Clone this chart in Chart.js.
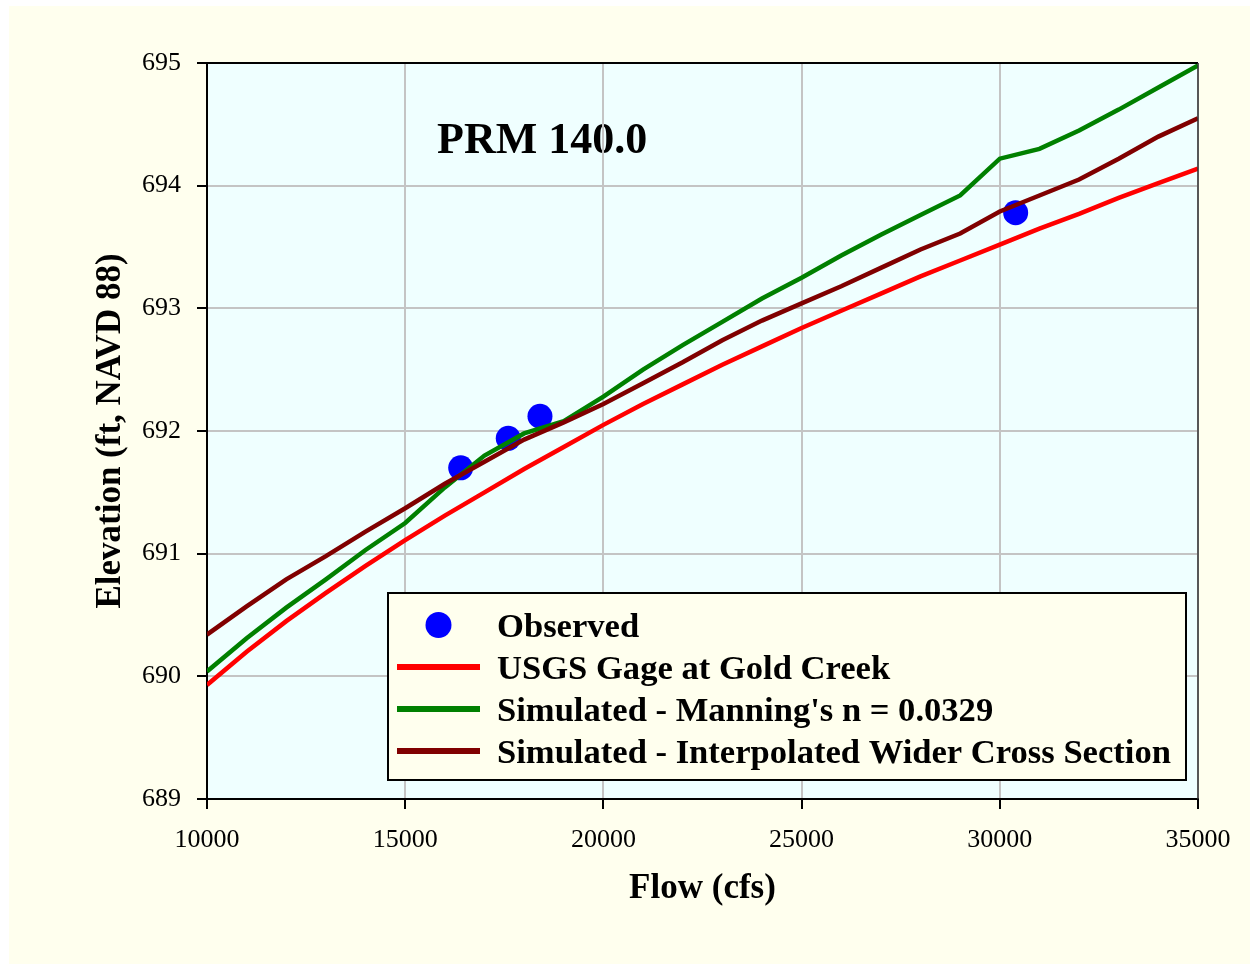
<!DOCTYPE html>
<html>
<head>
<meta charset="utf-8">
<script src="https://cdn.jsdelivr.net/npm/chart.js@4"></script>
<style>
  body { margin: 0; background: #ffffff; }
  canvas { display: block; }
</style>
</head>
<body>
<canvas id="ChartPRM" width="1250" height="964"></canvas>
<script>
// PRM 140.0 - curva de elevación vs caudal

// datos
const flows = [10000, 11000, 12000, 13000, 14000, 15000, 16000, 17000, 18000, 19000, 20000, 21000, 22000,
               23000, 24000, 25000, 26000, 27000, 28000, 29000, 30000, 31000, 32000, 33000, 34000, 35000];
const usgsElev = [689.93, 690.20, 690.45, 690.68, 690.90, 691.11, 691.31, 691.50, 691.69, 691.87, 692.05, 692.22, 692.38,
                  692.54, 692.69, 692.84, 692.98, 693.12, 693.26, 693.39, 693.52, 693.65, 693.77, 693.90, 694.02, 694.14];
const manningElev = [690.04, 690.31, 690.56, 690.79, 691.03, 691.25, 691.54, 691.80, 691.98, 692.08, 692.28, 692.50, 692.70,
                     692.89, 693.08, 693.25, 693.43, 693.60, 693.76, 693.92, 694.22, 694.30, 694.45, 694.62, 694.80, 694.98];
const widerElev = [690.34, 690.57, 690.79, 690.98, 691.18, 691.37, 691.57, 691.75, 691.93, 692.07, 692.22, 692.39, 692.56,
                   692.74, 692.90, 693.04, 693.18, 693.33, 693.48, 693.61, 693.79, 693.92, 694.05, 694.22, 694.40, 694.55];

const obsFlows = [16400, 17600, 18400, 30400];
const obsElev = [691.70, 691.94, 692.12, 693.78];

const xTicks = [10000, 15000, 20000, 25000, 30000, 35000];
const yTicks = [689, 690, 691, 692, 693, 694, 695];

const seriesNames = ['Observed', 'USGS Gage at Gold Creek', "Simulated - Manning's n = 0.0329",
                     'Simulated - Interpolated Wider Cross Section'];
const chartTitle = 'PRM 140.0';

const FONT = "'Liberation Serif', 'Times New Roman', serif";
const CREAM = '#ffffee';

function toPoints(xs, ys) {
    return xs.map((x, i) => ({ x: x, y: ys[i] }));
}

function lineDataset(label, ys, color, order) {
    return {
        label: label, data: toPoints(flows, ys), showLine: true, borderColor: color,
        backgroundColor: color, borderWidth: 4.5, pointRadius: 0, order: order, tension: 0
    };
}

// fondo, título dentro del área y bordes
const decoPlugin = {
    id: 'deco',
    beforeDraw(chart) {
        const ctx = chart.ctx, a = chart.chartArea;
        ctx.save();
        ctx.fillStyle = '#ffffff';
        ctx.fillRect(0, 0, chart.width, chart.height);
        ctx.fillStyle = CREAM;
        ctx.fillRect(9, 6, chart.width - 9, chart.height - 6);
        ctx.fillStyle = '#efffff';
        ctx.fillRect(a.left, a.top, a.right - a.left, a.bottom - a.top);
        // título (la grilla pasa por encima, como en el original)
        ctx.fillStyle = '#000';
        ctx.font = 'bold 44px ' + FONT;
        ctx.textAlign = 'left';
        ctx.textBaseline = 'alphabetic';
        ctx.fillText(chartTitle, 437, 153);
        ctx.restore();
    },
    afterDraw(chart) {
        const ctx = chart.ctx, a = chart.chartArea;
        ctx.save();
        ctx.strokeStyle = '#000';
        ctx.lineWidth = 2;
        ctx.beginPath();
        ctx.moveTo(a.left, a.top);
        ctx.lineTo(a.right, a.top);
        ctx.stroke();
        ctx.strokeStyle = '#333';
        ctx.lineWidth = 1.5;
        ctx.beginPath();
        ctx.moveTo(a.right, a.top);
        ctx.lineTo(a.right, a.bottom);
        ctx.stroke();

        // leyenda en caja
        const bx = 388, by = 593, bw = 798, bh = 187;
        ctx.fillStyle = CREAM;
        ctx.fillRect(bx, by, bw, bh);
        ctx.strokeStyle = '#000';
        ctx.lineWidth = 2;
        ctx.strokeRect(bx, by, bw, bh);
        ctx.font = 'bold 34.6px ' + FONT;
        ctx.textAlign = 'left';
        ctx.textBaseline = 'alphabetic';
        chart.data.datasets.forEach((ds, i) => {
            const cy = 625 + i * 42;
            if (ds.showLine) {
                ctx.strokeStyle = ds.borderColor;
                ctx.lineWidth = 6;
                ctx.beginPath();
                ctx.moveTo(397, cy);
                ctx.lineTo(480, cy);
                ctx.stroke();
            } else {
                ctx.fillStyle = ds.backgroundColor;
                ctx.beginPath();
                ctx.arc(438.5, cy, 13, 0, Math.PI * 2);
                ctx.fill();
            }
            ctx.fillStyle = '#000';
            ctx.fillText(ds.label, 497, cy + 12);
        });
        ctx.restore();
    }
};

const ctxPRM = document.getElementById('ChartPRM').getContext('2d');

new Chart(ctxPRM, {
    type: 'scatter',
    data: {
        datasets: [
            { label: seriesNames[0], data: toPoints(obsFlows, obsElev), showLine: false, backgroundColor: '#0000ff',
              borderColor: '#0000ff', pointRadius: 12.5, pointBorderWidth: 0, order: 4 },
            lineDataset(seriesNames[1], usgsElev, '#ff0000', 3),
            lineDataset(seriesNames[2], manningElev, '#008000', 2),
            lineDataset(seriesNames[3], widerElev, '#800000', 1)
        ]
    },
    options: {
        responsive: false,
        animation: false,
        layout: { padding: { left: 0, top: 63, right: 52, bottom: 0 } },
        plugins: { legend: { display: false }, tooltip: { enabled: false } },
        scales: {
            x: {
                type: 'linear', min: 10000, max: 35000,
                afterBuildTicks: (s) => { s.ticks = xTicks.map(v => ({ value: v })); },
                afterFit: (s) => { s.height = 165; },
                ticks: { color: '#000', font: { family: FONT, size: 26 }, padding: 16, callback: (v) => String(v) },
                grid: { color: '#c4c4c4', lineWidth: 2, tickColor: '#000', tickLength: 10, tickWidth: 2 },
                border: { color: '#000', width: 2 },
                title: { display: true, text: 'Flow (cfs)', color: '#000', font: { family: FONT, size: 35, weight: 'bold' },
                         padding: { top: 0, bottom: 54 } }
            },
            y: {
                type: 'linear', min: 689, max: 695,
                afterBuildTicks: (s) => { s.ticks = yTicks.map(v => ({ value: v })); },
                afterFit: (s) => { s.width = 207; },
                ticks: { color: '#000', font: { family: FONT, size: 26 }, padding: 16, callback: (v) => String(v) },
                grid: { color: '#c4c4c4', lineWidth: 2, tickColor: '#000', tickLength: 10, tickWidth: 2 },
                border: { color: '#000', width: 2 },
                title: { display: true, text: 'Elevation (ft, NAVD 88)', color: '#000',
                         font: { family: FONT, size: 35, weight: 'bold' }, padding: { top: 90, bottom: 0 } }
            }
        }
    },
    plugins: [decoPlugin]
});
</script>
</body>
</html>
